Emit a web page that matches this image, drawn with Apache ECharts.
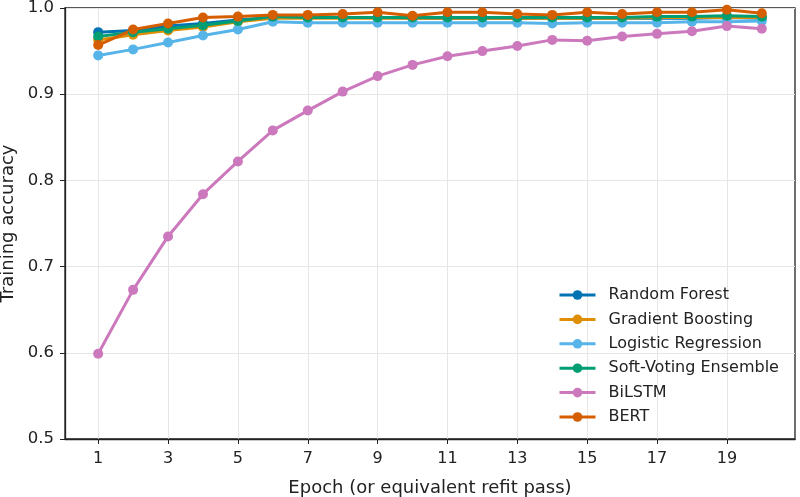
<!DOCTYPE html>
<html>
<head>
<meta charset="utf-8">
<script src="https://cdn.jsdelivr.net/npm/echarts@6/dist/echarts.min.js"></script>
<style>
  html, body { margin: 0; padding: 0; background: #fff; }
  #chart { width: 800px; height: 497px; }
</style>
</head>
<body>
<div id="chart"></div>
<script>
// epochs and tick labels
const epochs = [1, 2, 3, 4, 5, 6, 7, 8, 9, 10, 11, 12, 13, 14, 15, 16, 17, 18, 19, 20];
const xTicks = [1, 3, 5, 7, 9, 11, 13, 15, 17, 19];

// training accuracy per model
const randomForest = [0.972, 0.974, 0.979, 0.982, 0.986, 0.989, 0.989, 0.989, 0.989, 0.988, 0.988, 0.988, 0.988, 0.988, 0.988, 0.988, 0.988, 0.988, 0.989, 0.988];
const gradientBoosting = [0.963, 0.969, 0.974, 0.978, 0.984, 0.988, 0.988, 0.988, 0.988, 0.988, 0.988, 0.988, 0.988, 0.988, 0.988, 0.988, 0.989, 0.989, 0.989, 0.989];
const logisticRegression = [0.945, 0.952, 0.960, 0.968, 0.975, 0.984, 0.983, 0.983, 0.983, 0.983, 0.983, 0.983, 0.983, 0.982, 0.983, 0.983, 0.983, 0.984, 0.984, 0.985];
const softVoting = [0.967, 0.972, 0.976, 0.980, 0.985, 0.990, 0.989, 0.989, 0.989, 0.989, 0.989, 0.989, 0.989, 0.989, 0.989, 0.989, 0.990, 0.990, 0.991, 0.990];
const bilstm = [0.599, 0.673, 0.735, 0.784, 0.822, 0.858, 0.881, 0.903, 0.921, 0.934, 0.944, 0.950, 0.956, 0.963, 0.962, 0.967, 0.970, 0.973, 0.979, 0.976];
const bert = [0.957, 0.975, 0.982, 0.989, 0.990, 0.992, 0.992, 0.993, 0.995, 0.991, 0.995, 0.995, 0.993, 0.992, 0.995, 0.993, 0.995, 0.995, 0.998, 0.994];

const names = ["Random Forest", "Gradient Boosting", "Logistic Regression", "Soft-Voting Ensemble", "BiLSTM", "BERT"];
const values = [randomForest, gradientBoosting, logisticRegression, softVoting, bilstm, bert];
const colors = ["#0173b2", "#de8f05", "#56b4e9", "#029e73", "#cc78bc", "#d55e00"];

const font = "DejaVu Sans";

const series = names.map((name, i) => ({
  name: name,
  type: "line",
  data: epochs.map((e, j) => [e, values[i][j]]),
  symbol: "circle",
  symbolSize: 10,
  showSymbol: true,
  itemStyle: { color: colors[i] },
  lineStyle: { color: colors[i], width: 3 },
  emphasis: { disabled: true },
}));

const myChart = echarts.init(document.getElementById("chart"));
myChart.setOption({
  animation: false,
  backgroundColor: "#fff",
  textStyle: { fontFamily: font },
  grid: {
    left: 65,
    right: 5,
    top: 8,
    bottom: 58,
    containLabel: false,
    outerBoundsMode: "none",
    show: true,
    borderColor: "#222",
    borderWidth: 1.3,
    backgroundColor: "transparent",
  },
  legend: {
    orient: "vertical",
    left: 553,
    top: 282,
    itemWidth: 36,
    itemHeight: 12,
    itemGap: 8.4,
    lineStyle: { width: 3 },
    textStyle: { fontFamily: font, fontSize: 16, color: "#222", lineHeight: 16, padding: [0, 0, 0, 8] },
    data: names,
  },
  xAxis: {
    type: "value",
    min: 0.05,
    max: 20.95,
    name: "Epoch (or equivalent refit pass)",
    nameLocation: "middle",
    nameGap: 40,
    nameTextStyle: { fontFamily: font, fontSize: 18, color: "#222" },
    axisLine: { show: true, lineStyle: { color: "#222", width: 1.3 } },
    axisTick: { show: true, length: 5, customValues: xTicks, lineStyle: { color: "#222" } },
    axisLabel: { customValues: xTicks, fontFamily: font, fontSize: 16, color: "#222", margin: 12 },
    splitLine: { show: true, lineStyle: { color: "#e6e6e6", width: 1 } },
  },
  yAxis: {
    type: "value",
    min: 0.5,
    max: 1.0,
    interval: 0.1,
    name: "Training accuracy",
    nameLocation: "middle",
    nameGap: 42,
    nameTextStyle: { fontFamily: font, fontSize: 18, color: "#222" },
    axisLine: { show: true, lineStyle: { color: "#222", width: 1.3 } },
    axisTick: { show: true, length: 5, lineStyle: { color: "#222" } },
    axisLabel: {
      fontFamily: font,
      fontSize: 16.5,
      color: "#222",
      margin: 11,
      formatter: (v) => v.toFixed(1),
    },
    splitLine: { show: true, lineStyle: { color: "#e6e6e6", width: 1 } },
  },
  series: series,
});
</script>
</body>
</html>
